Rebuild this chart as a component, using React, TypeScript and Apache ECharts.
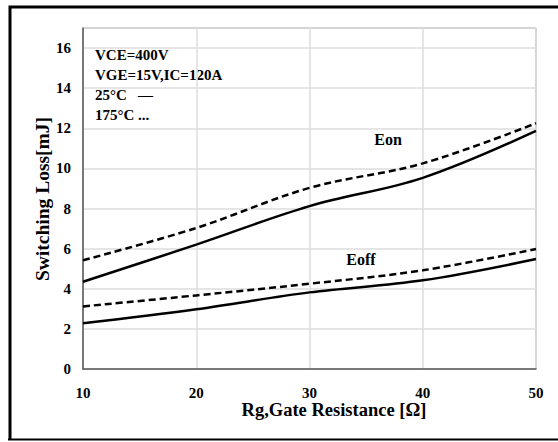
import React, { useEffect, useRef } from "react";
import * as echarts from "echarts";

const rg = [10, 20, 30, 40, 50];
const eon25 = [4.35, 6.2, 8.12, 9.53, 11.87];
const eon175 = [5.42, 7.03, 9.03, 10.25, 12.25];
const eoff25 = [2.28, 2.98, 3.82, 4.42, 5.48];
const eoff175 = [3.12, 3.67, 4.25, 4.92, 5.98];
const yTicks = { min: 0, max: 17, interval: 2 };
const xTicks = { min: 10, max: 50, interval: 10 };
const notes = ["VCE=400V", "VGE=15V,IC=120A", "25°C   \u2014", "175°C ..."];

const FONT = "'Liberation Serif', 'Times New Roman', serif";

export default function App() {
  const ref = useRef<HTMLDivElement>(null);
  useEffect(() => {
    if (!ref.current) return;
    const chart = echarts.init(ref.current, undefined, { renderer: "svg" });
    const mk = (d: number[]) => rg.map((x, i) => [x, d[i]]);
    const line = (name: string, d: number[], dashed: boolean) => ({
      name,
      type: "line",
      data: mk(d),
      smooth: 0.35,
      showSymbol: false,
      symbol: "none",
      lineStyle: { color: "#000", width: 2.5, type: dashed ? [7, 4] : "solid" },
    });
    chart.setOption({
      animation: false,
      backgroundColor: "#fff",
      grid: {
        left: 83,
        right: 22,
        top: 28,
        bottom: 73,
        show: true,
        borderColor: "#808080",
        borderWidth: 1,
      },
      xAxis: {
        type: "value",
        ...xTicks,
        axisLine: { show: true, lineStyle: { color: "#595959", width: 1.5 } },
        axisTick: { show: false },
        splitLine: { show: true, lineStyle: { color: "#dcdcdc", width: 1.5 } },
        axisLabel: {
          color: "#000",
          fontFamily: FONT,
          fontWeight: "bold",
          fontSize: 15,
          margin: 16,
        },
      },
      yAxis: {
        type: "value",
        ...yTicks,
        axisLine: { show: true, lineStyle: { color: "#595959", width: 1.5 } },
        axisTick: { show: false },
        splitLine: { show: true, lineStyle: { color: "#dcdcdc", width: 1.5 } },
        axisLabel: {
          color: "#000",
          fontFamily: FONT,
          fontWeight: "bold",
          fontSize: 15,
          margin: 12,
          showMaxLabel: false,
        },
      },
      series: [
        line("Eon 25°C", eon25, false),
        line("Eon 175°C", eon175, true),
        line("Eoff 25°C", eoff25, false),
        line("Eoff 175°C", eoff175, true),
      ],
      graphic: [
        {
          type: "polyline",
          shape: { points: [[10, 440], [10, 7], [560, 7]] },
          style: { stroke: "#000", lineWidth: 3, fill: "none" },
          silent: true,
        },
        {
          type: "line",
          shape: { x1: 8, y1: 439.5, x2: 560, y2: 439.5 },
          style: { stroke: "#000", lineWidth: 2 },
          silent: true,
        },
        ...notes.map((t, i) => ({
          type: "text",
          left: 95,
          top: 47 + i * 20,
          style: {
            text: t,
            font: `bold 15px ${FONT}`,
            fill: "#000",
          },
        })),
        {
          type: "text",
          x: 388,
          y: 139,
          style: {
            text: "Eon",
            font: `bold 16px ${FONT}`,
            fill: "#000",
            align: "center",
            verticalAlign: "middle",
          },
        },
        {
          type: "text",
          x: 361,
          y: 259,
          style: {
            text: "Eoff",
            font: `bold 16px ${FONT}`,
            fill: "#000",
            align: "center",
            verticalAlign: "middle",
          },
        },
        {
          type: "text",
          x: 334,
          y: 410,
          style: {
            text: "Rg,Gate Resistance [\u03A9]",
            font: `bold 18.5px ${FONT}`,
            fill: "#000",
            align: "center",
            verticalAlign: "middle",
          },
        },
        {
          type: "text",
          x: 42,
          y: 199,
          rotation: Math.PI / 2,
          style: {
            text: "Switching Loss[mJ]",
            font: `bold 19.5px ${FONT}`,
            fill: "#000",
            align: "center",
            verticalAlign: "middle",
          },
        },
      ],
    });
    return () => chart.dispose();
  }, []);
  return <div ref={ref} style={{ width: 558, height: 442, position: "absolute", left: 0, top: 0 }} />;
}
